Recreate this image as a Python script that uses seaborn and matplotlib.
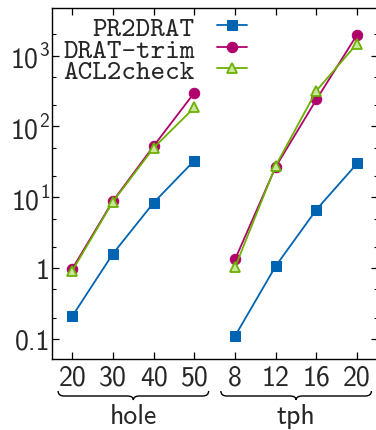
import numpy as np
import pandas as pd
import matplotlib
matplotlib.use('Agg')
import matplotlib.pyplot as plt
import seaborn as sns
from matplotlib.path import Path
from matplotlib.patches import PathPatch
from matplotlib.transforms import blended_transform_factory
from matplotlib.ticker import FixedLocator, LogLocator, NullFormatter

# Dados
families = ['hole', 'tph']
hole_sizes = [20, 30, 40, 50]
tph_sizes = [8, 12, 16, 20]
solvers = ['PR2DRAT', 'DRAT-trim', 'ACL2check']

pr2drat_hole = [0.21, 1.6, 8.4, 33]
pr2drat_tph = [0.11, 1.07, 6.7, 30]
drattrim_hole = [0.98, 8.9, 53, 300]
drattrim_tph = [1.33, 27, 240, 1980]
acl2check_hole = [0.92, 8.7, 50, 185]
acl2check_tph = [1.03, 28, 320, 1480]

ytick_values = [0.1, 1, 10, 100, 1000]
ytick_labels = ['0.1', '1', r'$\mathregular{10^{1}}$', r'$\mathregular{10^{2}}$', r'$\mathregular{10^{3}}$']

# Monta o dataframe longo
rows = []
series = {
    ('PR2DRAT', 'hole'): pr2drat_hole, ('PR2DRAT', 'tph'): pr2drat_tph,
    ('DRAT-trim', 'hole'): drattrim_hole, ('DRAT-trim', 'tph'): drattrim_tph,
    ('ACL2check', 'hole'): acl2check_hole, ('ACL2check', 'tph'): acl2check_tph,
}
for (solver, fam), vals in series.items():
    offset = 0 if fam == 'hole' else len(hole_sizes)
    for i, v in enumerate(vals):
        rows.append({'solver': solver, 'family': fam, 'pos': offset + i, 'time': v})
df = pd.DataFrame(rows)

sns.set_style('ticks')
plt.rcParams['font.family'] = ['cmss10', 'DejaVu Sans']
plt.rcParams['mathtext.fontset'] = 'custom'
plt.rcParams['mathtext.rm'] = 'cmss10'
plt.rcParams['mathtext.it'] = 'cmss10'
plt.rcParams['mathtext.bf'] = 'cmss10'
plt.rcParams['axes.unicode_minus'] = False

styles = {
    'PR2DRAT': dict(color='#0064b2', marker='s', markersize=7.5, mfc='#0064b2', mec='#0064b2'),
    'DRAT-trim': dict(color='#b0006b', marker='o', markersize=7.5, mfc='#b0006b', mec='#b0006b'),
    'ACL2check': dict(color='#6cb000', marker='^', markersize=6.5, mfc='#c9e69c', mec='#6cb000', mew=1.3),
}

fig = plt.figure(figsize=(3.76, 4.31), dpi=100)
ax = fig.add_axes([52 / 376, 71 / 431, 325.5 / 376, 351 / 431])

handles = []
for solver in solvers:
    for fam in families:
        d = df[(df['solver'] == solver) & (df['family'] == fam)]
        sns.lineplot(data=d, x='pos', y='time', ax=ax, linewidth=1.3, legend=False,
                     **styles[solver])
    handles.append(ax.lines[-1])

ax.set_yscale('log')
ax.set_ylim(0.052, 4700)
ax.set_xlim(-0.5, 7.5)
ax.set_xlabel('')
ax.set_ylabel('')

ax.set_xticks(range(len(hole_sizes) + len(tph_sizes)))
ax.set_xticklabels([str(s) for s in hole_sizes + tph_sizes], fontsize=20)
ax.yaxis.set_major_locator(FixedLocator(ytick_values))
ax.set_yticklabels(ytick_labels, fontsize=20)
ax.yaxis.set_minor_locator(LogLocator(base=10, subs=[2, 5]))
ax.yaxis.set_minor_formatter(NullFormatter())

ax.tick_params(which='both', direction='in', top=True, right=True, color='black')
ax.tick_params(which='major', length=5, width=0.9)
ax.tick_params(which='minor', length=3, width=0.8)
ax.tick_params(axis='y', pad=1.5)
ax.tick_params(axis='x', pad=4)
for sp in ax.spines.values():
    sp.set_linewidth(1.0)
    sp.set_color('black')

leg = ax.legend(handles, solvers, loc='upper left', markerfirst=False, frameon=False,
                prop={'family': 'cmtt10', 'size': 20}, handlelength=1.1,
                handletextpad=0.8, labelspacing=-0.14, borderaxespad=0.0,
                bbox_to_anchor=(0.0, 1.01))

# Chaves embaixo dos grupos
trans = blended_transform_factory(ax.transData, fig.transFigure)

def draw_brace(x0, x1, ytop, ymid, ybot, r=0.15):
    xc = (x0 + x1) / 2
    verts = [(x0, ytop), (x0, ymid), (x0 + r, ymid),
             (xc - r, ymid), (xc, ymid), (xc, ybot),
             (xc, ymid), (xc + r, ymid),
             (x1 - r, ymid), (x1, ymid), (x1, ytop)]
    codes = [Path.MOVETO, Path.CURVE3, Path.CURVE3,
             Path.LINETO, Path.CURVE3, Path.CURVE3,
             Path.CURVE3, Path.CURVE3,
             Path.LINETO, Path.CURVE3, Path.CURVE3]
    patch = PathPatch(Path(verts, codes), transform=trans, fill=False,
                      lw=1.0, color='black', clip_on=False)
    fig.add_artist(patch)

n = len(hole_sizes)
m = len(tph_sizes)
groups = [(families[0], 0, n - 1), (families[1], n, n + m - 1)]
for name, a, b in groups:
    draw_brace(a - 0.35, b + 0.35, 39 / 431, 34 / 431, 30 / 431)
    fig.text((a + b) / 2, 7 / 431, name, transform=trans, ha='center', va='baseline', fontsize=20)

fig.savefig('out.png', dpi=100)
